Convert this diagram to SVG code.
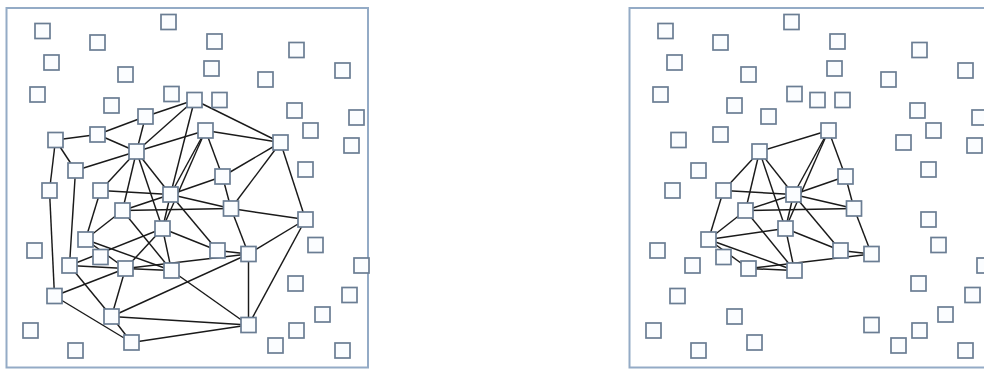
<svg xmlns="http://www.w3.org/2000/svg" xmlns:xlink="http://www.w3.org/1999/xlink" width="984" height="370" viewBox="0 0 984 370">
<style>
.frame{fill:#fff;stroke:#94abc6;stroke-width:2}
.nd{fill:#fbfdff;stroke:#6a7d93;stroke-width:1.7}
.ed line{stroke:#1a1a1a;stroke-width:1.45}
</style>
<defs><rect id="sq" x="-7.5" y="-7.5" width="15" height="15" class="nd"/></defs>
<rect width="984" height="370" fill="#fff"/>
<g id="panel-left">
<rect class="frame" x="6.5" y="8" width="361.5" height="359.5"/>
<g id="left-connectors" class="ed">
<line x1="55.5" y1="140" x2="97.5" y2="134.5"/>
<line x1="97.5" y1="134.5" x2="145.5" y2="116.5"/>
<line x1="145.5" y1="116.5" x2="194.5" y2="100"/>
<line x1="194.5" y1="100" x2="280.5" y2="142.5"/>
<line x1="280.5" y1="142.5" x2="305.5" y2="219.5"/>
<line x1="305.5" y1="219.5" x2="248.5" y2="325"/>
<line x1="248.5" y1="325" x2="131.5" y2="342.5"/>
<line x1="131.5" y1="342.5" x2="54.5" y2="296"/>
<line x1="54.5" y1="296" x2="49.5" y2="190.5"/>
<line x1="49.5" y1="190.5" x2="55.5" y2="140"/>
<line x1="97.5" y1="134.5" x2="136.5" y2="151.5"/>
<line x1="145.5" y1="116.5" x2="136.5" y2="151.5"/>
<line x1="136.5" y1="151.5" x2="194.5" y2="100"/>
<line x1="136.5" y1="151.5" x2="205.5" y2="130.5"/>
<line x1="194.5" y1="100" x2="170.5" y2="194.5"/>
<line x1="205.5" y1="130.5" x2="280.5" y2="142.5"/>
<line x1="280.5" y1="142.5" x2="222.5" y2="176.5"/>
<line x1="280.5" y1="142.5" x2="231" y2="208.5"/>
<line x1="205.5" y1="130.5" x2="222.5" y2="176.5"/>
<line x1="205.5" y1="130.5" x2="170.5" y2="194.5"/>
<line x1="205.5" y1="130.5" x2="162.5" y2="228.5"/>
<line x1="55.5" y1="140" x2="75.5" y2="170.5"/>
<line x1="75.5" y1="170.5" x2="136.5" y2="151.5"/>
<line x1="75.5" y1="170.5" x2="69.5" y2="265.5"/>
<line x1="100.5" y1="190.5" x2="170.5" y2="194.5"/>
<line x1="100.5" y1="190.5" x2="85.5" y2="239.5"/>
<line x1="136.5" y1="151.5" x2="100.5" y2="190.5"/>
<line x1="136.5" y1="151.5" x2="122.5" y2="210.5"/>
<line x1="136.5" y1="151.5" x2="162.5" y2="228.5"/>
<line x1="136.5" y1="151.5" x2="170.5" y2="194.5"/>
<line x1="122.5" y1="210.5" x2="170.5" y2="194.5"/>
<line x1="122.5" y1="210.5" x2="85.5" y2="239.5"/>
<line x1="122.5" y1="210.5" x2="171.5" y2="270.5"/>
<line x1="170.5" y1="194.5" x2="162.5" y2="228.5"/>
<line x1="162.5" y1="228.5" x2="69.5" y2="265.5"/>
<line x1="85.5" y1="239.5" x2="125.5" y2="268.5"/>
<line x1="85.5" y1="239.5" x2="171.5" y2="270.5"/>
<line x1="125.5" y1="268.5" x2="69.5" y2="265.5"/>
<line x1="125.5" y1="268.5" x2="54.5" y2="296"/>
<line x1="125.5" y1="268.5" x2="111.5" y2="316.5"/>
<line x1="125.5" y1="268.5" x2="171.5" y2="270.5"/>
<line x1="125.5" y1="268.5" x2="162.5" y2="228.5"/>
<line x1="69.5" y1="265.5" x2="111.5" y2="316.5"/>
<line x1="111.5" y1="316.5" x2="131.5" y2="342.5"/>
<line x1="111.5" y1="316.5" x2="248.5" y2="325"/>
<line x1="111.5" y1="316.5" x2="248.5" y2="254"/>
<line x1="171.5" y1="270.5" x2="248.5" y2="325"/>
<line x1="125.5" y1="268.5" x2="248.5" y2="254"/>
<line x1="162.5" y1="228.5" x2="217.5" y2="250.5"/>
<line x1="162.5" y1="228.5" x2="171.5" y2="270.5"/>
<line x1="170.5" y1="194.5" x2="217.5" y2="250.5"/>
<line x1="170.5" y1="194.5" x2="231" y2="208.5"/>
<line x1="231" y1="208.5" x2="305.5" y2="219.5"/>
<line x1="231" y1="208.5" x2="248.5" y2="254"/>
<line x1="217.5" y1="250.5" x2="248.5" y2="254"/>
<line x1="248.5" y1="254" x2="305.5" y2="219.5"/>
<line x1="248.5" y1="254" x2="248.5" y2="325"/>
<line x1="222.5" y1="176.5" x2="231" y2="208.5"/>
<line x1="222.5" y1="176.5" x2="170.5" y2="194.5"/>
<line x1="122.5" y1="210.5" x2="231" y2="208.5"/>
</g>
<g id="left-nodes">
<g id="L-A" transform="translate(194.5,100)"><use xlink:href="#sq"/></g>
<g id="L-B" transform="translate(145.5,116.5)"><use xlink:href="#sq"/></g>
<g id="L-C" transform="translate(97.5,134.5)"><use xlink:href="#sq"/></g>
<g id="L-D" transform="translate(55.5,140)"><use xlink:href="#sq"/></g>
<g id="L-E" transform="translate(136.5,151.5)"><use xlink:href="#sq"/></g>
<g id="L-F" transform="translate(205.5,130.5)"><use xlink:href="#sq"/></g>
<g id="L-G" transform="translate(280.5,142.5)"><use xlink:href="#sq"/></g>
<g id="L-H" transform="translate(75.5,170.5)"><use xlink:href="#sq"/></g>
<g id="L-I" transform="translate(222.5,176.5)"><use xlink:href="#sq"/></g>
<g id="L-J" transform="translate(49.5,190.5)"><use xlink:href="#sq"/></g>
<g id="L-K" transform="translate(100.5,190.5)"><use xlink:href="#sq"/></g>
<g id="L-L" transform="translate(170.5,194.5)"><use xlink:href="#sq"/></g>
<g id="L-M" transform="translate(122.5,210.5)"><use xlink:href="#sq"/></g>
<g id="L-N" transform="translate(231,208.5)"><use xlink:href="#sq"/></g>
<g id="L-O" transform="translate(305.5,219.5)"><use xlink:href="#sq"/></g>
<g id="L-P" transform="translate(162.5,228.5)"><use xlink:href="#sq"/></g>
<g id="L-Q" transform="translate(85.5,239.5)"><use xlink:href="#sq"/></g>
<g id="L-R" transform="translate(217.5,250.5)"><use xlink:href="#sq"/></g>
<g id="L-S" transform="translate(248.5,254)"><use xlink:href="#sq"/></g>
<g id="L-T" transform="translate(69.5,265.5)"><use xlink:href="#sq"/></g>
<g id="L-U" transform="translate(125.5,268.5)"><use xlink:href="#sq"/></g>
<g id="L-V" transform="translate(171.5,270.5)"><use xlink:href="#sq"/></g>
<g id="L-W" transform="translate(54.5,296)"><use xlink:href="#sq"/></g>
<g id="L-X" transform="translate(111.5,316.5)"><use xlink:href="#sq"/></g>
<g id="L-Y" transform="translate(248.5,325)"><use xlink:href="#sq"/></g>
<g id="L-Z" transform="translate(131.5,342.5)"><use xlink:href="#sq"/></g>
<g id="L-f1" transform="translate(42.5,31)"><use xlink:href="#sq"/></g>
<g id="L-f2" transform="translate(97.5,42.5)"><use xlink:href="#sq"/></g>
<g id="L-f3" transform="translate(168.5,22)"><use xlink:href="#sq"/></g>
<g id="L-f4" transform="translate(51.5,62.5)"><use xlink:href="#sq"/></g>
<g id="L-f5" transform="translate(125.5,74.5)"><use xlink:href="#sq"/></g>
<g id="L-f6" transform="translate(37.5,94.5)"><use xlink:href="#sq"/></g>
<g id="L-f7" transform="translate(111.5,105.5)"><use xlink:href="#sq"/></g>
<g id="L-f8" transform="translate(171.5,94)"><use xlink:href="#sq"/></g>
<g id="L-f9" transform="translate(214.5,41.5)"><use xlink:href="#sq"/></g>
<g id="L-f10" transform="translate(296.5,50)"><use xlink:href="#sq"/></g>
<g id="L-f11" transform="translate(211.5,68.5)"><use xlink:href="#sq"/></g>
<g id="L-f12" transform="translate(265.5,79.5)"><use xlink:href="#sq"/></g>
<g id="L-f13" transform="translate(342.5,70.5)"><use xlink:href="#sq"/></g>
<g id="L-f14" transform="translate(219.5,100)"><use xlink:href="#sq"/></g>
<g id="L-f15" transform="translate(294.5,110.5)"><use xlink:href="#sq"/></g>
<g id="L-f16" transform="translate(356.5,117.5)"><use xlink:href="#sq"/></g>
<g id="L-f17" transform="translate(310.5,130.5)"><use xlink:href="#sq"/></g>
<g id="L-f18" transform="translate(351.5,145.5)"><use xlink:href="#sq"/></g>
<g id="L-f19" transform="translate(305.5,169.5)"><use xlink:href="#sq"/></g>
<g id="L-f20" transform="translate(34.5,250.5)"><use xlink:href="#sq"/></g>
<g id="L-f21" transform="translate(100.5,257)"><use xlink:href="#sq"/></g>
<g id="L-f22" transform="translate(30.5,330.5)"><use xlink:href="#sq"/></g>
<g id="L-f23" transform="translate(75.5,350.5)"><use xlink:href="#sq"/></g>
<g id="L-f24" transform="translate(315.5,245)"><use xlink:href="#sq"/></g>
<g id="L-f25" transform="translate(361.5,265.5)"><use xlink:href="#sq"/></g>
<g id="L-f26" transform="translate(295.5,283.5)"><use xlink:href="#sq"/></g>
<g id="L-f27" transform="translate(349.5,295)"><use xlink:href="#sq"/></g>
<g id="L-f28" transform="translate(322.5,314.5)"><use xlink:href="#sq"/></g>
<g id="L-f29" transform="translate(296.5,330.5)"><use xlink:href="#sq"/></g>
<g id="L-f30" transform="translate(275.5,345.5)"><use xlink:href="#sq"/></g>
<g id="L-f31" transform="translate(342.5,350.5)"><use xlink:href="#sq"/></g>
</g>
</g>
<g id="panel-right" transform="translate(623,0)">
<rect class="frame" x="6.5" y="8" width="361.5" height="359.5"/>
<g id="right-connectors" class="ed">
<line x1="136.5" y1="151.5" x2="205.5" y2="130.5"/>
<line x1="136.5" y1="151.5" x2="100.5" y2="190.5"/>
<line x1="136.5" y1="151.5" x2="122.5" y2="210.5"/>
<line x1="136.5" y1="151.5" x2="162.5" y2="228.5"/>
<line x1="136.5" y1="151.5" x2="170.5" y2="194.5"/>
<line x1="205.5" y1="130.5" x2="222.5" y2="176.5"/>
<line x1="205.5" y1="130.5" x2="170.5" y2="194.5"/>
<line x1="205.5" y1="130.5" x2="162.5" y2="228.5"/>
<line x1="222.5" y1="176.5" x2="170.5" y2="194.5"/>
<line x1="222.5" y1="176.5" x2="231" y2="208.5"/>
<line x1="100.5" y1="190.5" x2="170.5" y2="194.5"/>
<line x1="100.5" y1="190.5" x2="85.5" y2="239.5"/>
<line x1="85.5" y1="239.5" x2="122.5" y2="210.5"/>
<line x1="85.5" y1="239.5" x2="162.5" y2="228.5"/>
<line x1="85.5" y1="239.5" x2="171.5" y2="270.5"/>
<line x1="85.5" y1="239.5" x2="125.5" y2="268.5"/>
<line x1="122.5" y1="210.5" x2="170.5" y2="194.5"/>
<line x1="122.5" y1="210.5" x2="171.5" y2="270.5"/>
<line x1="170.5" y1="194.5" x2="162.5" y2="228.5"/>
<line x1="170.5" y1="194.5" x2="231" y2="208.5"/>
<line x1="170.5" y1="194.5" x2="217.5" y2="250.5"/>
<line x1="162.5" y1="228.5" x2="171.5" y2="270.5"/>
<line x1="162.5" y1="228.5" x2="217.5" y2="250.5"/>
<line x1="125.5" y1="268.5" x2="171.5" y2="270.5"/>
<line x1="125.5" y1="268.5" x2="248.5" y2="254"/>
<line x1="217.5" y1="250.5" x2="248.5" y2="254"/>
<line x1="231" y1="208.5" x2="248.5" y2="254"/>
<line x1="122.5" y1="210.5" x2="231" y2="208.5"/>
</g>
<g id="right-nodes">
<g id="R-A" transform="translate(194.5,100)"><use xlink:href="#sq"/></g>
<g id="R-B" transform="translate(145.5,116.5)"><use xlink:href="#sq"/></g>
<g id="R-C" transform="translate(97.5,134.5)"><use xlink:href="#sq"/></g>
<g id="R-D" transform="translate(55.5,140)"><use xlink:href="#sq"/></g>
<g id="R-E" transform="translate(136.5,151.5)"><use xlink:href="#sq"/></g>
<g id="R-F" transform="translate(205.5,130.5)"><use xlink:href="#sq"/></g>
<g id="R-G" transform="translate(280.5,142.5)"><use xlink:href="#sq"/></g>
<g id="R-H" transform="translate(75.5,170.5)"><use xlink:href="#sq"/></g>
<g id="R-I" transform="translate(222.5,176.5)"><use xlink:href="#sq"/></g>
<g id="R-J" transform="translate(49.5,190.5)"><use xlink:href="#sq"/></g>
<g id="R-K" transform="translate(100.5,190.5)"><use xlink:href="#sq"/></g>
<g id="R-L" transform="translate(170.5,194.5)"><use xlink:href="#sq"/></g>
<g id="R-M" transform="translate(122.5,210.5)"><use xlink:href="#sq"/></g>
<g id="R-N" transform="translate(231,208.5)"><use xlink:href="#sq"/></g>
<g id="R-O" transform="translate(305.5,219.5)"><use xlink:href="#sq"/></g>
<g id="R-P" transform="translate(162.5,228.5)"><use xlink:href="#sq"/></g>
<g id="R-Q" transform="translate(85.5,239.5)"><use xlink:href="#sq"/></g>
<g id="R-R" transform="translate(217.5,250.5)"><use xlink:href="#sq"/></g>
<g id="R-S" transform="translate(248.5,254)"><use xlink:href="#sq"/></g>
<g id="R-T" transform="translate(69.5,265.5)"><use xlink:href="#sq"/></g>
<g id="R-U" transform="translate(125.5,268.5)"><use xlink:href="#sq"/></g>
<g id="R-V" transform="translate(171.5,270.5)"><use xlink:href="#sq"/></g>
<g id="R-W" transform="translate(54.5,296)"><use xlink:href="#sq"/></g>
<g id="R-X" transform="translate(111.5,316.5)"><use xlink:href="#sq"/></g>
<g id="R-Y" transform="translate(248.5,325)"><use xlink:href="#sq"/></g>
<g id="R-Z" transform="translate(131.5,342.5)"><use xlink:href="#sq"/></g>
<g id="R-f1" transform="translate(42.5,31)"><use xlink:href="#sq"/></g>
<g id="R-f2" transform="translate(97.5,42.5)"><use xlink:href="#sq"/></g>
<g id="R-f3" transform="translate(168.5,22)"><use xlink:href="#sq"/></g>
<g id="R-f4" transform="translate(51.5,62.5)"><use xlink:href="#sq"/></g>
<g id="R-f5" transform="translate(125.5,74.5)"><use xlink:href="#sq"/></g>
<g id="R-f6" transform="translate(37.5,94.5)"><use xlink:href="#sq"/></g>
<g id="R-f7" transform="translate(111.5,105.5)"><use xlink:href="#sq"/></g>
<g id="R-f8" transform="translate(171.5,94)"><use xlink:href="#sq"/></g>
<g id="R-f9" transform="translate(214.5,41.5)"><use xlink:href="#sq"/></g>
<g id="R-f10" transform="translate(296.5,50)"><use xlink:href="#sq"/></g>
<g id="R-f11" transform="translate(211.5,68.5)"><use xlink:href="#sq"/></g>
<g id="R-f12" transform="translate(265.5,79.5)"><use xlink:href="#sq"/></g>
<g id="R-f13" transform="translate(342.5,70.5)"><use xlink:href="#sq"/></g>
<g id="R-f14" transform="translate(219.5,100)"><use xlink:href="#sq"/></g>
<g id="R-f15" transform="translate(294.5,110.5)"><use xlink:href="#sq"/></g>
<g id="R-f16" transform="translate(356.5,117.5)"><use xlink:href="#sq"/></g>
<g id="R-f17" transform="translate(310.5,130.5)"><use xlink:href="#sq"/></g>
<g id="R-f18" transform="translate(351.5,145.5)"><use xlink:href="#sq"/></g>
<g id="R-f19" transform="translate(305.5,169.5)"><use xlink:href="#sq"/></g>
<g id="R-f20" transform="translate(34.5,250.5)"><use xlink:href="#sq"/></g>
<g id="R-f21" transform="translate(100.5,257)"><use xlink:href="#sq"/></g>
<g id="R-f22" transform="translate(30.5,330.5)"><use xlink:href="#sq"/></g>
<g id="R-f23" transform="translate(75.5,350.5)"><use xlink:href="#sq"/></g>
<g id="R-f24" transform="translate(315.5,245)"><use xlink:href="#sq"/></g>
<g id="R-f25" transform="translate(361.5,265.5)"><use xlink:href="#sq"/></g>
<g id="R-f26" transform="translate(295.5,283.5)"><use xlink:href="#sq"/></g>
<g id="R-f27" transform="translate(349.5,295)"><use xlink:href="#sq"/></g>
<g id="R-f28" transform="translate(322.5,314.5)"><use xlink:href="#sq"/></g>
<g id="R-f29" transform="translate(296.5,330.5)"><use xlink:href="#sq"/></g>
<g id="R-f30" transform="translate(275.5,345.5)"><use xlink:href="#sq"/></g>
<g id="R-f31" transform="translate(342.5,350.5)"><use xlink:href="#sq"/></g>
</g>
</g>
</svg>
